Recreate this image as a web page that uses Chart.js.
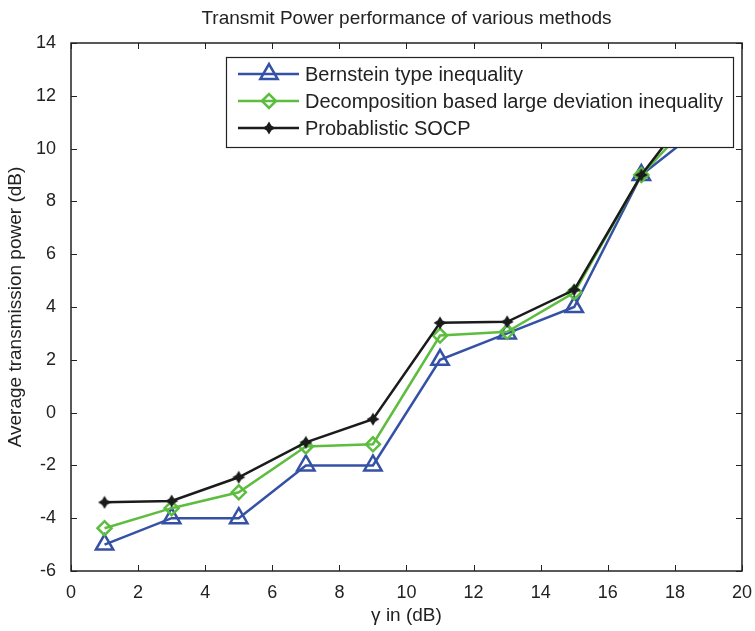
<!DOCTYPE html>
<html lang="en">
<head>
    <meta charset="UTF-8">
    <title>Transmit Power performance of various methods</title>
    <script src="https://cdn.jsdelivr.net/npm/chart.js"></script>
    <style>
        body { margin: 0; background: #fff; }
    </style>
</head>
<body>
    <div style="width: 755px; height: 631px">
        <canvas id="powerChart" width="755" height="631"></canvas>
    </div>
    <script>
        const gammaDb = [1, 3, 5, 7, 9, 11, 13, 15, 17, 19];
        const bernstein = [-5, -4, -4, -2, -2, 2, 3, 4, 9, 11];
        const decomposition = [-4.38, -3.62, -3.02, -1.28, -1.2, 2.92, 3.06, 4.55, 9, 11.7];
        const socp = [-3.4, -3.35, -2.45, -1.13, -0.25, 3.4, 3.44, 4.65, 9, 12.3];
        const seriesNames = ['Bernstein type inequality', 'Decomposition based large deviation inequality', 'Probablistic SOCP'];
        const FONT = '"Liberation Sans", Arial, sans-serif';
        const TXT = '#222';

        const toPoints = ys => gammaDb.map((x, i) => ({ x: x, y: ys[i] }));

        // filled 4 point star, like the matlab marker in the picture
        function makeStar(color) {
            const c = document.createElement('canvas');
            c.width = 14; c.height = 14;
            const g = c.getContext('2d');
            g.fillStyle = color;
            g.beginPath();
            for (let i = 0; i < 8; i++) {
                const r = i % 2 === 0 ? 6.5 : 3.4;
                const ang = i * Math.PI / 4 - Math.PI / 2;
                const px = 7 + r * Math.cos(ang), py = 7 + r * Math.sin(ang);
                i === 0 ? g.moveTo(px, py) : g.lineTo(px, py);
            }
            g.closePath();
            g.fill();
            return c;
        }
        const starMarker = makeStar('#1b1b1b');

        // matlab style box, inward ticks, title and legend
        const matlabLook = {
            id: 'matlabLook',
            afterDatasetsDraw(chart) {
                const ctx = chart.ctx;
                const a = chart.chartArea;
                const xs = chart.scales.x, ys = chart.scales.y;
                ctx.save();
                ctx.strokeStyle = TXT;
                ctx.lineWidth = 1;
                ctx.beginPath();
                xs.ticks.forEach(t => {
                    const px = Math.round(xs.getPixelForValue(t.value)) + 0.5;
                    ctx.moveTo(px, a.bottom); ctx.lineTo(px, a.bottom - 6);
                    ctx.moveTo(px, a.top); ctx.lineTo(px, a.top + 6);
                });
                ys.ticks.forEach(t => {
                    const py = Math.round(ys.getPixelForValue(t.value)) + 0.5;
                    ctx.moveTo(a.left, py); ctx.lineTo(a.left + 6, py);
                    ctx.moveTo(a.right, py); ctx.lineTo(a.right - 6, py);
                });
                ctx.stroke();
                ctx.lineWidth = 1.5;
                ctx.strokeRect(a.left, a.top, a.right - a.left, a.bottom - a.top);

                // title
                ctx.fillStyle = TXT;
                ctx.font = '19px ' + FONT;
                ctx.textAlign = 'center';
                ctx.textBaseline = 'middle';
                ctx.fillText('Transmit Power performance of various methods', (a.left + a.right) / 2, 19);

                // legend
                const lx = 226, ly = 57, lw = 507, lh = 90;
                ctx.fillStyle = '#fff';
                ctx.fillRect(lx, ly, lw, lh);
                ctx.strokeStyle = TXT;
                ctx.lineWidth = 1.2;
                ctx.strokeRect(lx + 0.5, ly + 0.5, lw, lh);
                chart.data.datasets.forEach((ds, i) => {
                    const y = ly + 17 + i * 27;
                    ctx.strokeStyle = ds.borderColor;
                    ctx.lineWidth = 2.5;
                    ctx.beginPath();
                    ctx.moveTo(lx + 12, y); ctx.lineTo(lx + 73, y);
                    ctx.stroke();
                    ctx.fillStyle = ds.pointBackgroundColor;
                    ctx.strokeStyle = ds.pointBorderColor;
                    ctx.lineWidth = ds.pointBorderWidth;
                    Chart.helpers.drawPoint(ctx, {
                        pointStyle: ds.pointStyle,
                        radius: ds.pointRadius,
                        borderWidth: ds.pointBorderWidth
                    }, lx + 43, y);
                    ctx.fillStyle = TXT;
                    ctx.font = '20px ' + FONT;
                    ctx.textAlign = 'left';
                    ctx.fillText(ds.label, lx + 79, y + 1);
                });
                ctx.restore();
            }
        };

        const markerStyle = (color, style, radius, bw, fill) => ({
            borderColor: color,
            backgroundColor: fill,
            pointStyle: style,
            pointRadius: radius,
            pointBorderWidth: bw,
            pointBackgroundColor: fill,
            pointBorderColor: color,
            borderWidth: 2.5,
            tension: 0
        });

        const config = {
            type: 'line',
            data: {
                datasets: [
                    Object.assign({ label: seriesNames[0], data: toPoints(bernstein), order: 2 },
                        markerStyle('#3451a6', 'triangle', 10, 2.5, 'rgba(255,255,255,0)')),
                    Object.assign({ label: seriesNames[1], data: toPoints(decomposition), order: 1 },
                        markerStyle('#5dbd3e', 'rectRot', 7, 2.5, 'rgba(255,255,255,0)')),
                    Object.assign({ label: seriesNames[2], data: toPoints(socp), order: 0 },
                        markerStyle('#1b1b1b', starMarker, 6, 1, '#1b1b1b'))
                ]
            },
            options: {
                responsive: false,
                animation: false,
                layout: { padding: { top: 43, right: 13, left: 0, bottom: 0 } },
                plugins: {
                    legend: { display: false },
                    title: { display: false },
                    tooltip: { enabled: false }
                },
                scales: {
                    x: {
                        type: 'linear',
                        min: 0, max: 20,
                        ticks: { stepSize: 2, color: TXT, font: { family: FONT, size: 18 }, padding: 3 },
                        grid: { display: false },
                        border: { display: false },
                        title: { display: true, text: 'γ in (dB)', color: TXT, font: { family: FONT, size: 19 }, padding: { top: 2 } },
                        afterFit: s => { s.height = 60; }
                    },
                    y: {
                        min: -6, max: 14,
                        ticks: { stepSize: 2, color: TXT, font: { family: FONT, size: 18 }, padding: 7 },
                        grid: { display: false },
                        border: { display: false },
                        title: { display: true, text: 'Average transmission power (dB)', color: TXT, font: { family: FONT, size: 19 }, padding: { bottom: 2 } },
                        afterFit: s => { s.width = 71; }
                    }
                }
            },
            plugins: [matlabLook]
        };

        new Chart(document.getElementById('powerChart').getContext('2d'), config);
    </script>
</body>
</html>
